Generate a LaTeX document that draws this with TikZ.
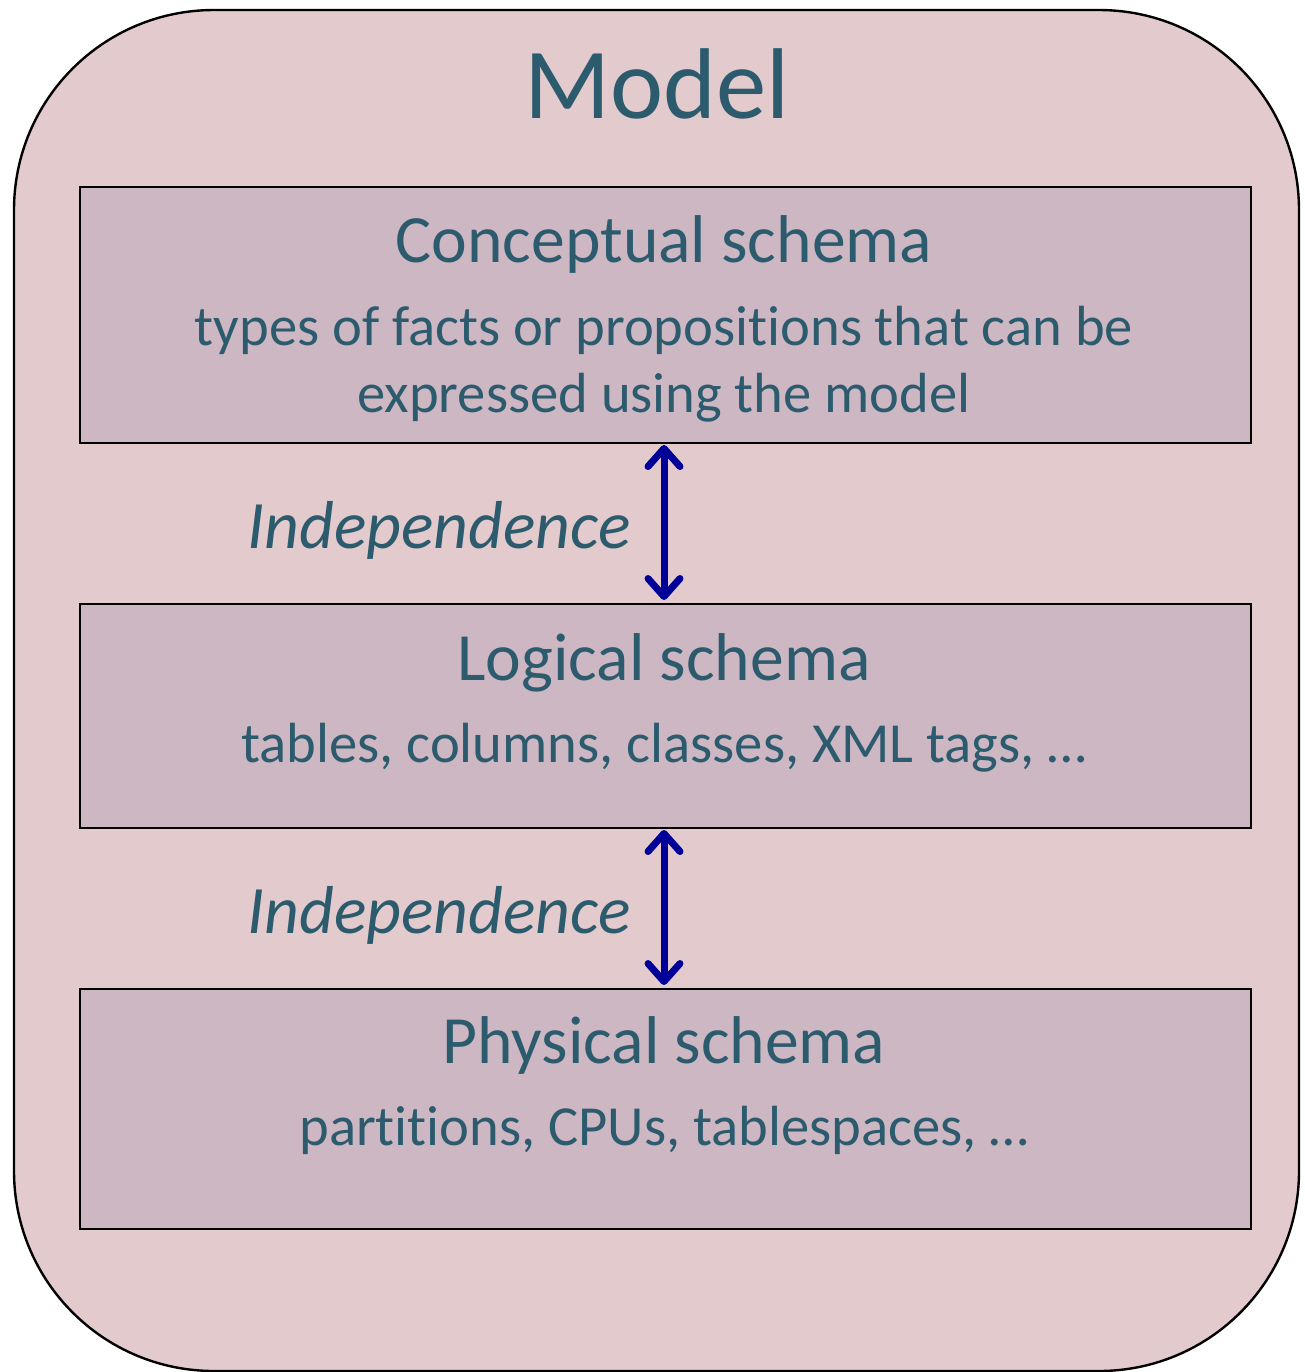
\documentclass[tikz,border=0pt]{standalone}
\usepackage{fontspec}
\setmainfont{Carlito}[Ligatures={NoCommon}]
\usetikzlibrary{arrows.meta}
\definecolor{outerfill}{HTML}{E3CBCD}
\definecolor{innerfill}{HTML}{CDB7C3}
\definecolor{txt}{HTML}{2C5B6E}
\definecolor{arr}{HTML}{000099}
\tikzset{
  layerbox/.style={draw=black, line width=1pt, fill=innerfill},
  title/.style={text=txt, font=\fontsize{33.8}{40}\selectfont, anchor=base, inner sep=0pt},
  body/.style={text=txt, font=\fontsize{28.3}{33.5}\selectfont, anchor=base, inner sep=0pt, align=center},
  indep/.style={text=txt, font=\fontsize{33.9}{40}\selectfont\itshape, anchor=base, inner sep=0pt},
  twoway/.style={draw=arr, line width=3.5pt, {Straight Barb[length=9pt,width=16pt,round]}-{Straight Barb[length=9pt,width=16pt,round]}, shorten <=1pt, shorten >=1pt}
}
\begin{document}
\begin{tikzpicture}[x=0.5pt,y=-0.5pt]
\useasboundingbox (0,0) rectangle (1305,1372);
\draw[fill=outerfill, line width=1.2pt, rounded corners=100pt] (14,10) rectangle (1299,1371);
\node[text=txt, font=\fontsize{50.3}{58}\selectfont, anchor=base, inner sep=0pt] (model) at (657,118) {Model};

\node[layerbox, minimum width=585.5pt, minimum height=128pt, anchor=north west, inner sep=0pt] (cbox) at (79,186) {};
\node[layerbox, minimum width=585.5pt, minimum height=112pt, anchor=north west, inner sep=0pt] (lbox) at (79,603) {};
\node[layerbox, minimum width=585.5pt, minimum height=120pt, anchor=north west, inner sep=0pt] (pbox) at (79,988) {};

\node[title] (ctitle) at (664,262) {Conceptual schema};
\node[body] (cbody1) at (664,345) {types of facts or propositions that can be};
\node[body] (cbody2) at (664,412) {expressed using the model};

\node[title] (ltitle) at (664,680) {Logical schema};
\node[body] (lbody) at (664,762) {tables, columns, classes, XML tags, …};

\node[title] (ptitle) at (664,1063) {Physical schema};
\node[body] (pbody) at (664,1145) {partitions, CPUs, tablespaces, …};

\node[indep] (ind1) at (439,548) {Independence};
\node[indep] (ind2) at (439,933) {Independence};

\coordinate (a1) at (664,443);
\coordinate (a2) at (664,602);
\coordinate (a3) at (664,828);
\coordinate (a4) at (664,987);
\draw[twoway] (a1) -- (a2);
\draw[twoway] (a3) -- (a4);
\end{tikzpicture}
\end{document}
